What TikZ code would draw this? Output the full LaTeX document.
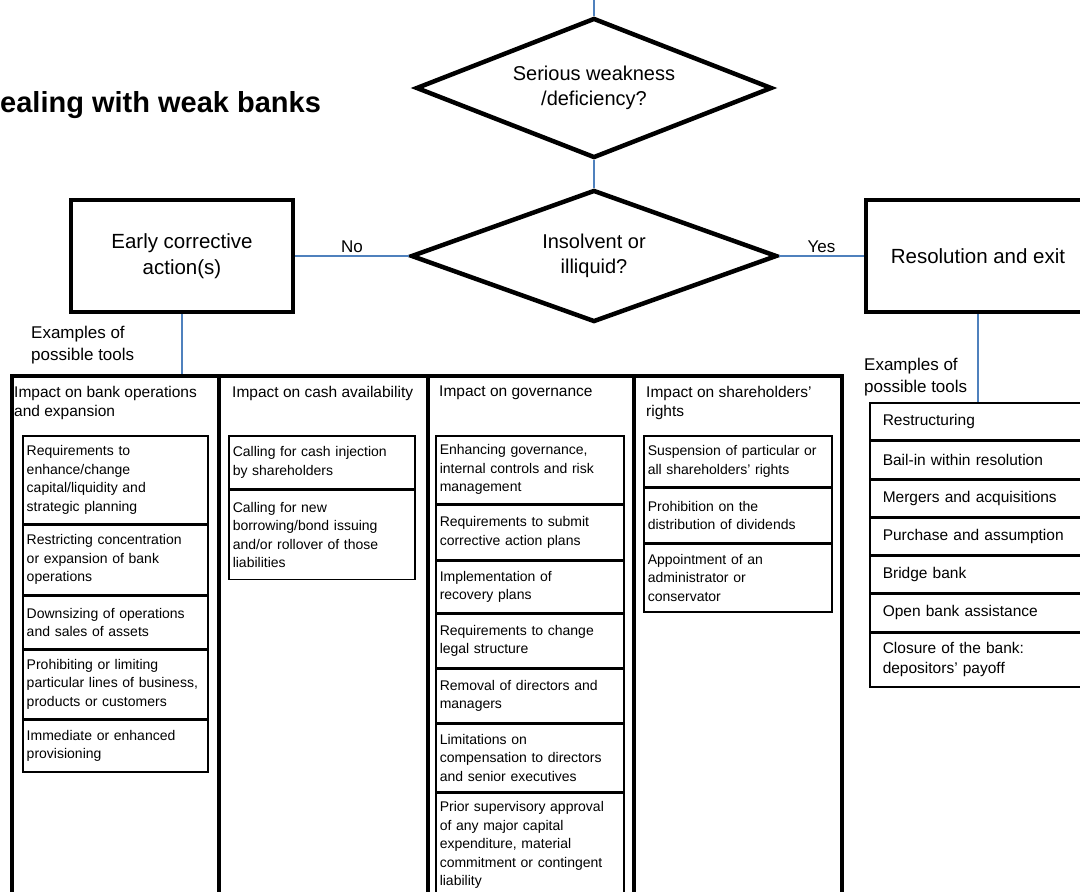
\documentclass[tikz,border=0pt]{standalone}
\usepackage{fontspec}
\setmainfont{Liberation Sans}
\usetikzlibrary{shapes.geometric}
\definecolor{connblue}{RGB}{79,129,189}
\begin{document}
\begin{tikzpicture}[x=1pt,y=-1pt,
  conn/.style={draw=connblue,line width=1.3pt},
  decision/.style={diamond,draw,line width=4.5pt,inner sep=0pt,aspect=2.6,align=center,font=\fontsize{20}{25}\selectfont},
  bigbox/.style={rectangle,draw,line width=4.5pt,minimum width=222pt,minimum height=112pt,align=center,font=\fontsize{20.5}{26}\selectfont},
  colbox/.style={rectangle,draw,line width=3.5pt,anchor=north west,minimum height=540pt,inner sep=0pt},
  head/.style={anchor=north west,inner sep=0pt,align=left,font=\fontsize{15.5}{19}\selectfont},
  item/.style={rectangle,draw,line width=1.5pt,anchor=north west,align=left,inner xsep=4pt,inner ysep=2pt,font=\fontsize{14}{18.5}\selectfont},
  itemA/.style={item,text width=177pt},
  itemB/.style={item,text width=178pt},
  itemC/.style={item,text width=180pt},
  tool/.style={rectangle,draw,line width=1.5pt,anchor=north west,align=left,inner xsep=13pt,inner ysep=2pt,text width=195pt,font=\fontsize{15.5}{20}\selectfont},
  note/.style={anchor=west,inner sep=0pt,align=left,font=\fontsize{17}{21.5}\selectfont},
  lbl/.style={font=\fontsize{17}{20}\selectfont,inner sep=3pt,text=black}
]
\useasboundingbox (0,0) rectangle (1080,892);
\clip (0,0) rectangle (1080,892);
\coordinate (origin) at (0,0);

% title
\node[anchor=base west,inner sep=0pt,font=\bfseries\fontsize{29}{34}\selectfont] (title) at (0,112) {ealing with weak banks};

% decisions and main boxes
\node[decision,minimum width=356pt,minimum height=140pt] (d1) at (594,88) {Serious weakness\\/deficiency?};
\node[decision,minimum width=366pt,minimum height=132pt] (d2) at (594,256) {Insolvent or\\illiquid?};
\node[bigbox] (eca) at (182,256) {Early corrective\\action(s)};
\node[bigbox,minimum width=224pt] (re) at (978,256) {Resolution and exit};

% columns
\node[colbox,minimum width=207pt] (c1) at (10,374) {};
\node[colbox,minimum width=209pt] (c2) at (217,374) {};
\node[colbox,minimum width=206pt] (c3) at (426,374) {};
\node[colbox,minimum width=208pt] (c4) at (632,374) {};

\node[head] (h1) at (14,386) {Impact on bank operations\\and expansion};
\node[head] (h2) at (232,386) {Impact on cash availability};
\node[head] (h3) at (439,386) {Impact on governance};
\node[head] (h4) at (646,386) {Impact on shareholders'\\rights};

% column 1
\node[itemA,minimum height=88pt] (a1) at (22,435) {Requirements to\\enhance/change\\capital/liquidity and\\strategic planning};
\node[itemA,minimum height=69pt] (a2) at (a1.south west) {Restricting concentration\\or expansion of bank\\operations};
\node[itemA,minimum height=53pt] (a3) at (a2.south west) {Downsizing of operations\\and sales of assets};
\node[itemA,minimum height=68pt] (a4) at (a3.south west) {Prohibiting or limiting\\particular lines of business,\\products or customers};
\node[itemA,minimum height=52pt] (a5) at (a4.south west) {Immediate or enhanced\\provisioning};

% column 2
\node[itemB,minimum height=53pt] (b1) at (228,435) {Calling for cash injection\\by shareholders};
\node[itemB,minimum height=89pt] (b2) at (b1.south west) {Calling for new\\borrowing/bond issuing\\and/or rollover of those\\liabilities};

% column 3
\node[itemC,minimum height=68pt] (g1) at (435,435) {Enhancing governance,\\internal controls and risk\\management};
\node[itemC,minimum height=54pt] (g2) at (g1.south west) {Requirements to submit\\corrective action plans};
\node[itemC,minimum height=52pt] (g3) at (g2.south west) {Implementation of\\recovery plans};
\node[itemC,minimum height=53pt] (g4) at (g3.south west) {Requirements to change\\legal structure};
\node[itemC,minimum height=54pt] (g5) at (g4.south west) {Removal of directors and\\managers};
\node[itemC,minimum height=67pt] (g6) at (g5.south west) {Limitations on\\compensation to directors\\and senior executives};
\node[itemC,minimum height=105pt] (g7) at (g6.south west) {Prior supervisory approval\\of any major capital\\expenditure, material\\commitment or contingent\\liability};

% column 4
\node[itemC,minimum height=51pt] (s1) at (643,435) {Suspension of particular or\\all shareholders' rights};
\node[itemC,minimum height=54pt] (s2) at (s1.south west) {Prohibition on the\\distribution of dividends};
\node[itemC,minimum height=68pt] (s3) at (s2.south west) {Appointment of an\\administrator or\\conservator};

% resolution tools
\node[tool,minimum height=37pt] (t1) at (869,402) {Restructuring};
\node[tool,minimum height=37pt] (t2) at (t1.south west) {Bail-in within resolution};
\node[tool,minimum height=37pt] (t3) at (t2.south west) {Mergers and acquisitions};
\node[tool,minimum height=36pt] (t4) at (t3.south west) {Purchase and assumption};
\node[tool,minimum height=37pt] (t5) at (t4.south west) {Bridge bank};
\node[tool,minimum height=37pt] (t6) at (t5.south west) {Open bank assistance};
\node[tool,minimum height=54pt] (t7) at (t6.south west) {Closure of the bank:\\depositors' payoff};

% notes
\node[note] (n1) at (31,345) {Examples of\\possible tools};
\node[note] (n2) at (864,377) {Examples of\\possible tools};

% connectors
\draw[conn] (d1.north |- origin) -- (d1.north);
\draw[conn] (d1.south) -- (d2.north);
\draw[conn] (eca.east) -- node[lbl,above] (no) {No} (d2.west);
\draw[conn] (d2.east) -- node[lbl,above] (yes) {Yes} (re.west);
\draw[conn] (eca.south) -- (eca.south |- c1.north);
\draw[conn] (re.south) -- (re.south |- t1.north);
\end{tikzpicture}
\end{document}
